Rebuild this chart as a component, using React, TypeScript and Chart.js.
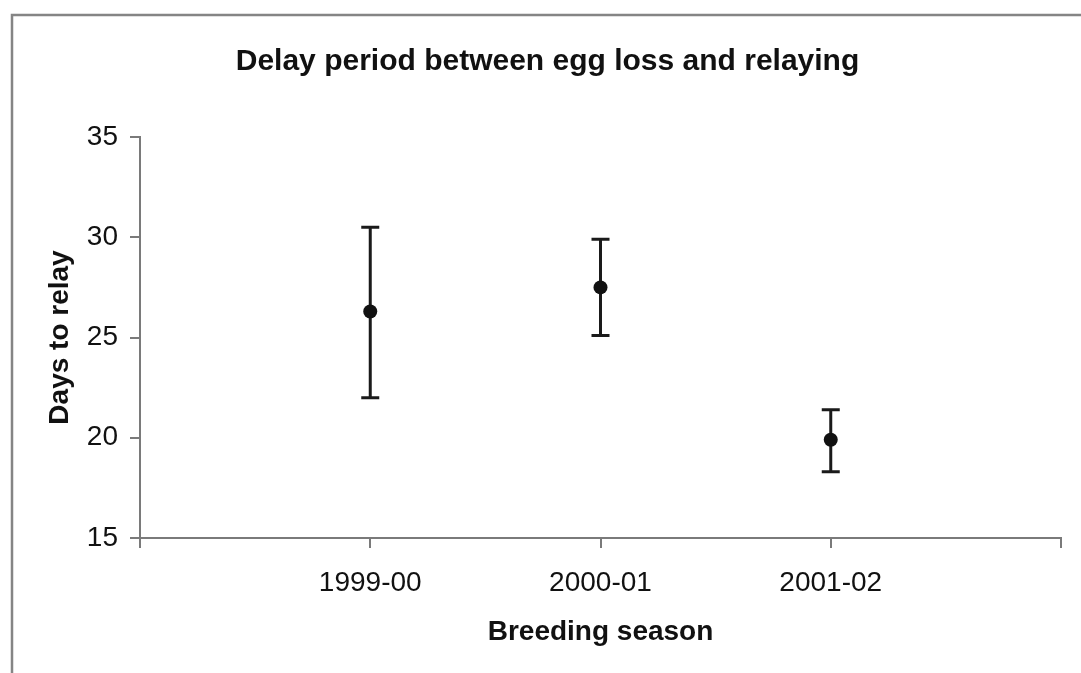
import React, { useEffect, useRef } from "react";
import { Chart, registerables } from "chart.js";

Chart.register(...registerables);

// Seasons, mean delay (days) and error-bar limits
const seasons = ["1999-00", "2000-01", "2001-02"];
const meanDays = [26.3, 27.5, 19.9];
const upperDays = [30.5, 29.9, 21.4];
const lowerDays = [22.0, 25.1, 18.3];
const yTickValues = [15, 20, 25, 30, 35];

const TEXT = "#111111";
const AXIS = "#7a7a7a";
const FONT = "'Liberation Sans', Arial, Helvetica, sans-serif";

// White background and the outer frame (left and top edges visible)
const framePlugin = {
  id: "frame",
  beforeDraw(chart: any) {
    const { ctx, width, height } = chart;
    ctx.save();
    ctx.fillStyle = "#ffffff";
    ctx.fillRect(0, 0, width, height);
    ctx.strokeStyle = "#858585";
    ctx.lineWidth = 2.5;
    ctx.beginPath();
    ctx.moveTo(12, height + 5);
    ctx.lineTo(12, 15);
    ctx.lineTo(width + 5, 15);
    ctx.stroke();
    ctx.restore();
  },
};

// Vertical error bars with caps, drawn under the mean markers
const errorBarPlugin = {
  id: "errorBars",
  beforeDatasetsDraw(chart: any) {
    const { ctx } = chart;
    const x = chart.scales.x;
    const y = chart.scales.y;
    const cap = 9;
    ctx.save();
    ctx.strokeStyle = "#1a1a1a";
    ctx.lineWidth = 3;
    seasons.forEach((_, i) => {
      const px = x.getPixelForValue(i + 1);
      const top = y.getPixelForValue(upperDays[i]);
      const bot = y.getPixelForValue(lowerDays[i]);
      ctx.beginPath();
      ctx.moveTo(px, top);
      ctx.lineTo(px, bot);
      ctx.moveTo(px - cap, top);
      ctx.lineTo(px + cap, top);
      ctx.moveTo(px - cap, bot);
      ctx.lineTo(px + cap, bot);
      ctx.stroke();
    });
    ctx.restore();
  },
};

export default function App() {
  const canvasRef = useRef<HTMLCanvasElement | null>(null);

  useEffect(() => {
    if (!canvasRef.current) return;
    const chart = new Chart(canvasRef.current, {
      type: "scatter",
      data: {
        datasets: [
          {
            label: "Mean days to relay",
            data: seasons.map((_, i) => ({ x: i + 1, y: meanDays[i] })),
            pointRadius: 7,
            pointHoverRadius: 7,
            pointBackgroundColor: "#111111",
            pointBorderWidth: 0,
            showLine: false,
          },
        ],
      },
      options: {
        responsive: false,
        animation: false,
        devicePixelRatio: 1,
        layout: { padding: { left: 34, right: 20, top: 10, bottom: 10 } },
        plugins: {
          legend: { display: false },
          tooltip: { enabled: false },
          title: {
            display: true,
            text: "Delay period between egg loss and relaying",
            color: TEXT,
            font: { family: FONT, size: 30, weight: "bold" },
            padding: { top: 34, bottom: 57 },
          },
        },
        scales: {
          x: {
            type: "linear",
            min: 0,
            max: 4,
            afterBuildTicks(scale: any) {
              scale.ticks = [0, 1, 2, 3, 4].map((v) => ({ value: v }));
            },
            afterFit(scale: any) {
              scale.height = 125;
            },
            ticks: {
              color: TEXT,
              font: { family: FONT, size: 28 },
              padding: 18,
              maxRotation: 0,
              autoSkip: false,
              callback: (v: any) => seasons[Number(v) - 1] ?? "",
            },
            grid: {
              drawOnChartArea: false,
              drawTicks: true,
              tickLength: 10,
              color: AXIS,
              lineWidth: 2,
            },
            border: { display: true, color: AXIS, width: 2 },
            title: {
              display: true,
              text: "Breeding season",
              color: TEXT,
              font: { family: FONT, size: 28, weight: "bold" },
              padding: { top: 0, bottom: 14 },
            },
          },
          y: {
            type: "linear",
            min: 15,
            max: 35,
            afterBuildTicks(scale: any) {
              scale.ticks = yTickValues.map((v) => ({ value: v }));
            },
            afterFit(scale: any) {
              scale.width = 106;
            },
            ticks: {
              color: TEXT,
              font: { family: FONT, size: 28 },
              padding: 12,
            },
            grid: {
              drawOnChartArea: false,
              drawTicks: true,
              tickLength: 10,
              color: AXIS,
              lineWidth: 2,
            },
            border: { display: true, color: AXIS, width: 2 },
            title: {
              display: true,
              text: "Days to relay",
              color: TEXT,
              font: { family: FONT, size: 28, weight: "bold" },
              padding: { top: 9, bottom: 0 },
            },
          },
        },
      },
      plugins: [framePlugin, errorBarPlugin],
    } as any);
    return () => chart.destroy();
  }, []);

  return (
    <div style={{ position: "fixed", left: 0, top: 0, width: 1081, height: 673, background: "#ffffff" }}>
      <canvas ref={canvasRef} width={1081} height={673} style={{ width: 1081, height: 673, display: "block" }} />
    </div>
  );
}
